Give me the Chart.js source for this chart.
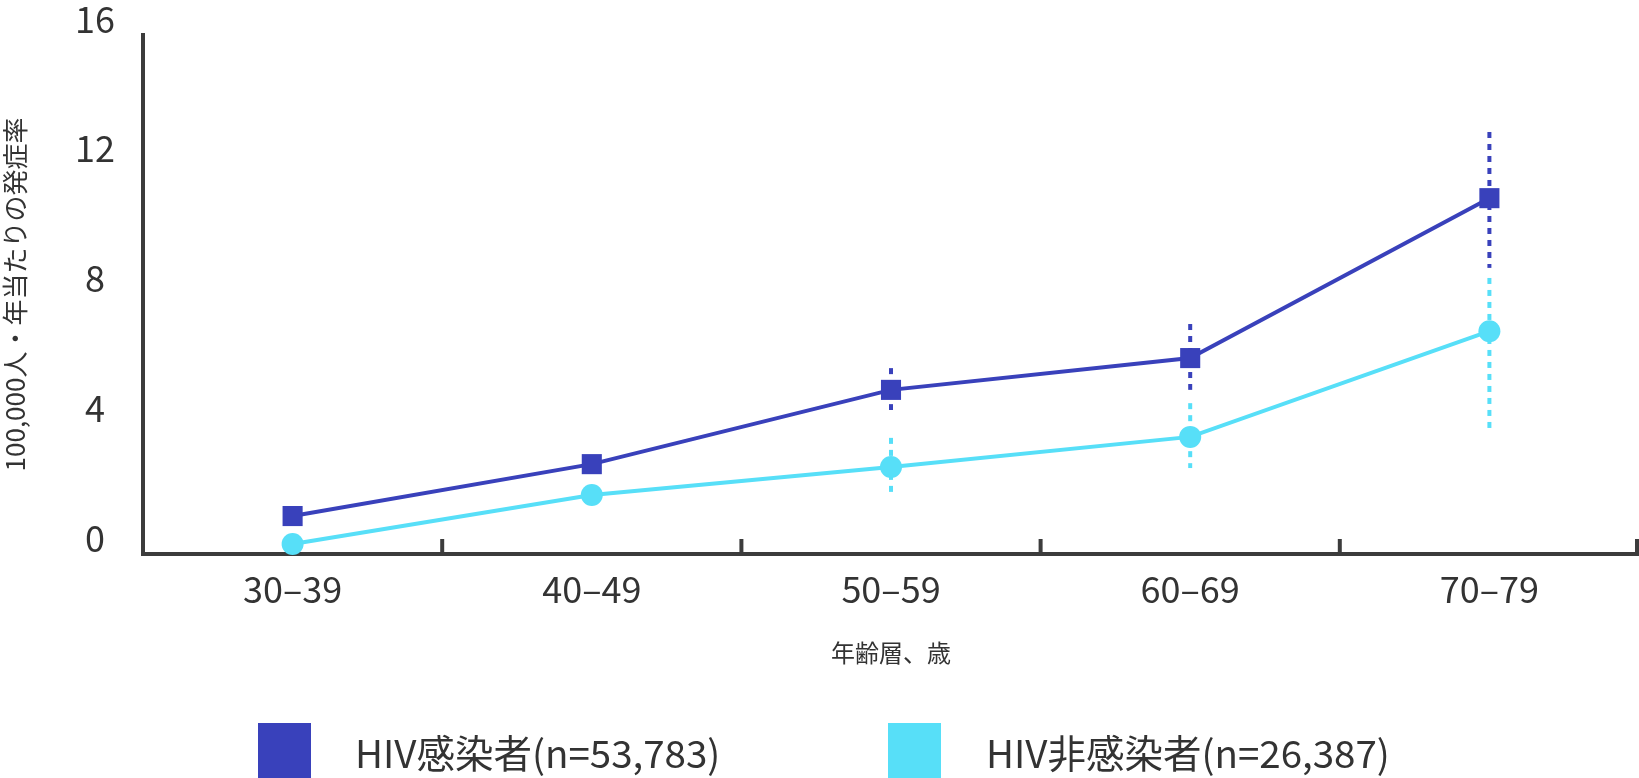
<!DOCTYPE html>
<html>
<head>
<meta charset="utf-8">
<script src="https://cdn.jsdelivr.net/npm/chart.js@4.4.1/dist/chart.umd.min.js"></script>
<style>
  html, body { margin: 0; padding: 0; background: #ffffff; }
  #wrap { position: relative; width: 1639px; height: 778px; overflow: hidden; }
  #chart { position: absolute; left: 0; top: 0; }
  .lg-box { position: absolute; width: 53px; height: 55px; }
  .lg-text { position: absolute; font-family: "Noto Sans CJK JP", "Noto Sans", sans-serif; font-size: 38.5px; color: #333333; line-height: 1; white-space: nowrap; }
</style>
</head>
<body>
<div id="wrap">
  <canvas id="chart" width="1639" height="778"></canvas>
  <div class="lg-box" id="lgBox1" style="left:258px; top:723px;"></div>
  <div class="lg-text" id="lgText1" style="left:355px; top:732px;"></div>
  <div class="lg-box" id="lgBox2" style="left:888px; top:723px;"></div>
  <div class="lg-text" id="lgText2" style="left:986px; top:732px;"></div>
</div>
<script>
// ---- data ----
const categories = ['30–39', '40–49', '50–59', '60–69', '70–79'];
const seriesNames = ['HIV感染者(n=53,783)', 'HIV非感染者(n=26,387)'];
const hivRate = [1.17, 2.77, 5.06, 6.04, 10.97];
const hivLower = [null, null, 4.44, 5.06, 8.82];
const hivUpper = [null, null, 5.73, 7.09, 13.01];
const nonHivRate = [0.31, 1.82, 2.68, 3.61, 6.87];
const nonHivLower = [null, null, 1.91, 2.65, 3.88];
const nonHivUpper = [null, null, 3.58, 4.65, 8.51];
const yTickValues = [0, 4, 8, 12, 16];
const xTitle = '年齢層、歳';
const yTitle = '100,000人・年当たりの発症率';

// ---- styles ----
const HIV_COLOR = '#3941BB';
const NON_COLOR = '#57DFF8';
const AXIS_COLOR = '#3c3c3c';
const TEXT_COLOR = '#333333';
const FONT = '"Noto Sans CJK JP", "Noto Sans", sans-serif';

document.getElementById('lgBox1').style.background = HIV_COLOR;
document.getElementById('lgBox2').style.background = NON_COLOR;
document.getElementById('lgText1').textContent = seriesNames[0];
document.getElementById('lgText2').textContent = seriesNames[1];

// dashed error bars drawn through the library's scales
const errorBarPlugin = {
  id: 'errorBars',
  beforeDatasetsDraw(chart) {
    const {ctx, scales: {x, y}} = chart;
    chart.data.datasets.forEach((ds) => {
      if (!ds.errLower) return;
      ctx.save();
      ctx.strokeStyle = ds.borderColor;
      ctx.lineWidth = 4;
      ctx.setLineDash([6, 6]);
      ds.data.forEach((v, i) => {
        const lo = ds.errLower[i], hi = ds.errUpper[i];
        if (lo == null || hi == null) return;
        const px = x.getPixelForValue(i);
        ctx.beginPath();
        ctx.moveTo(px, y.getPixelForValue(hi));
        ctx.lineTo(px, y.getPixelForValue(lo));
        ctx.stroke();
      });
      ctx.restore();
    });
  }
};

// short upward tick marks at category boundaries on the x axis
const innerTicksPlugin = {
  id: 'innerTicks',
  afterDraw(chart) {
    const {ctx, chartArea, scales: {x}} = chart;
    const n = chart.data.labels.length;
    ctx.save();
    ctx.strokeStyle = AXIS_COLOR;
    ctx.lineWidth = 4;
    const step = n > 1 ? (x.getPixelForValue(1) - x.getPixelForValue(0)) : 0;
    for (let i = 0; i < n; i++) {
      let bx = x.getPixelForValue(i) + step / 2;
      bx = Math.min(bx, chartArea.right - 2);
      ctx.beginPath();
      ctx.moveTo(bx, chartArea.bottom);
      ctx.lineTo(bx, chartArea.bottom - 15);
      ctx.stroke();
    }
    ctx.restore();
  }
};

function zeroPadding(scale) {
  scale.paddingTop = 0;
  scale.paddingBottom = 0;
  scale.paddingLeft = 0;
  scale.paddingRight = 0;
}

new Chart(document.getElementById('chart'), {
  type: 'line',
  data: {
    labels: categories,
    datasets: [
      {
        label: seriesNames[0],
        data: hivRate,
        errLower: hivLower,
        errUpper: hivUpper,
        borderColor: HIV_COLOR,
        backgroundColor: HIV_COLOR,
        borderWidth: 4,
        tension: 0,
        pointStyle: 'rect',
        pointRadius: 14.2,
        pointHoverRadius: 14.2,
        pointBorderWidth: 0,
        pointBackgroundColor: HIV_COLOR,
        clip: false
      },
      {
        label: seriesNames[1],
        data: nonHivRate,
        errLower: nonHivLower,
        errUpper: nonHivUpper,
        borderColor: NON_COLOR,
        backgroundColor: NON_COLOR,
        borderWidth: 4,
        tension: 0,
        pointStyle: 'circle',
        pointRadius: 11,
        pointHoverRadius: 11,
        pointBorderWidth: 0,
        pointBackgroundColor: NON_COLOR,
        clip: false
      }
    ]
  },
  options: {
    responsive: false,
    animation: false,
    devicePixelRatio: 1,
    layout: { autoPadding: false, padding: { top: 35, right: 0, bottom: 94, left: 0 } },
    plugins: {
      legend: { display: false },
      tooltip: { enabled: false }
    },
    scales: {
      x: {
        type: 'category',
        offset: true,
        grid: { display: false, drawTicks: false },
        border: { display: true, color: AXIS_COLOR, width: 4 },
        ticks: {
          color: TEXT_COLOR,
          font: { family: FONT, size: 36 },
          padding: 14,
          maxRotation: 0,
          autoSkip: false
        },
        title: {
          display: true,
          text: xTitle,
          color: TEXT_COLOR,
          font: { family: FONT, size: 24 },
          padding: { top: 0, bottom: 17 }
        },
        afterFit(scale) { scale.height = 130; zeroPadding(scale); }
      },
      y: {
        type: 'linear',
        min: 0,
        max: 16,
        afterBuildTicks(scale) { scale.ticks = yTickValues.map(v => ({ value: v })); },
        grid: { display: false, drawTicks: false },
        border: { display: true, color: AXIS_COLOR, width: 4 },
        ticks: {
          color: TEXT_COLOR,
          font: { family: FONT, size: 36 },
          padding: 28,
          crossAlign: 'center',
          labelOffset: -16
        },
        title: {
          display: true,
          text: yTitle,
          color: TEXT_COLOR,
          font: { family: FONT, size: 26 },
          padding: { top: 0, bottom: 0 }
        },
        afterFit(scale) { scale.width = 143; zeroPadding(scale); }
      }
    }
  },
  plugins: [errorBarPlugin, innerTicksPlugin]
});
</script>
</body>
</html>
